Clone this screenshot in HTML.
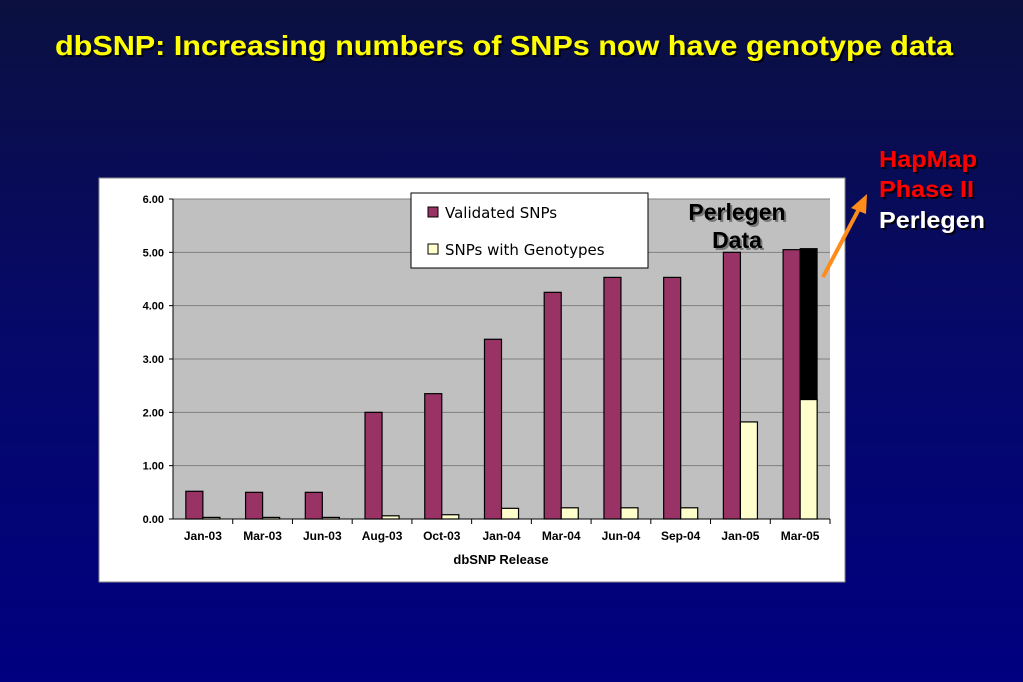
<!DOCTYPE html>
<html><head><meta charset="utf-8"><style>
body{margin:0;width:1023px;height:682px;overflow:hidden;background:linear-gradient(#0b1040,#06086a 50%,#000080);font-family:"Liberation Sans",sans-serif}
svg{position:absolute;left:0;top:0}
</style></head><body>
<svg width="1023" height="682">
<defs><filter id="sh"><feDropShadow dx="2" dy="2" stdDeviation="0" flood-color="#000" flood-opacity="0.8"/></filter></defs>
<text x="55" y="55" font-size="28" font-weight="bold" fill="#ffff00" filter="url(#sh)" textLength="898" lengthAdjust="spacingAndGlyphs">dbSNP:  Increasing numbers of SNPs now have genotype data</text>
<rect x="99" y="178" width="746" height="404" fill="#fff" stroke="#888"/>
<rect x="173" y="199" width="657" height="320" fill="#c0c0c0"/>
<g id="grid"></g><g id="bars"></g><g id="axes"></g>
<text x="501" y="564" font-size="13" font-weight="bold" text-anchor="middle">dbSNP Release</text>
<g font-family="DejaVu Sans, sans-serif">
<rect x="411" y="193" width="237" height="75" fill="#fff" stroke="#000"/>
<rect x="428" y="207" width="10" height="10" fill="#993366" stroke="#000"/>
<text x="445" y="218" font-size="15">Validated SNPs</text>
<rect x="428" y="244" width="10" height="10" fill="#ffffcc" stroke="#000"/>
<text x="445" y="255" font-size="15">SNPs with Genotypes</text>
</g>
<g font-size="23" font-weight="bold" text-anchor="middle" fill="#000" style="filter:drop-shadow(2px 2px 0 #777)">
<text x="737" y="220">Perlegen</text>
<text x="737" y="248">Data</text></g>
<line x1="823" y1="277" x2="860" y2="207" stroke="#ff8c1a" stroke-width="4"/>
<polygon points="867,194 851,208 866,214" fill="#ff8c1a"/>
<g font-size="23" font-weight="bold" filter="url(#sh)">
<text x="879" y="167" fill="#ff0000" textLength="98" lengthAdjust="spacingAndGlyphs">HapMap</text>
<text x="879" y="197" fill="#ff0000" textLength="95" lengthAdjust="spacingAndGlyphs">Phase II</text>
<text x="879" y="228" fill="#ffffff" textLength="106" lengthAdjust="spacingAndGlyphs">Perlegen</text></g>
</svg>
<script>
const categories=["Jan-03","Mar-03","Jun-03","Aug-03","Oct-03","Jan-04","Mar-04","Jun-04","Sep-04","Jan-05","Mar-05"];
const validated=[0.52,0.50,0.50,2.00,2.35,3.37,4.25,4.53,4.53,5.00,5.05];
const genotypes=[0.03,0.03,0.03,0.06,0.08,0.20,0.21,0.21,0.21,1.82,2.24];
const perlegen=[0,0,0,0,0,0,0,0,0,0,2.83];
const yTicks=[0,1,2,3,4,5,6];
const NS="http://www.w3.org/2000/svg";
const x0=173,x1=830,yb=519,yt=199,ymax=6;
const step=(x1-x0)/categories.length;
const y=v=>yb-(v/ymax)*(yb-yt);
function mk(tag,attrs,parent){const e=document.createElementNS(NS,tag);for(const k in attrs)e.setAttribute(k,attrs[k]);document.getElementById(parent).appendChild(e);return e;}
yTicks.forEach(t=>{
 if(t>0){const g=mk('line',{x1:x0,x2:x1,y1:y(t),y2:y(t),stroke:'#808080'},'grid');
 
 }
 const l=mk('text',{x:x0-9,y:y(t)+4,'font-size':11,'font-weight':'bold','text-anchor':'end'},'axes');l.textContent=t.toFixed(2);
 
 
 mk('line',{x1:x0-4,x2:x0,y1:y(t),y2:y(t),stroke:'#000'},'axes');
});
mk('line',{x1:x0,x2:x0,y1:yt,y2:yb,stroke:'#000'},'axes');
mk('line',{x1:x0,x2:x1,y1:yb,y2:yb,stroke:'#000'},'axes');
const bw=step*0.285;
categories.forEach((c,i)=>{
 const cx=x0+step*(i+0.5);
 let r=mk('rect',{x:cx-bw,y:y(validated[i]),width:bw,height:yb-y(validated[i]),fill:'#993366',stroke:'#000','stroke-width':1.2},'bars');
 
 
 r=mk('rect',{x:cx,y:y(genotypes[i]),width:bw,height:yb-y(genotypes[i]),fill:'#ffffcc',stroke:'#000','stroke-width':1.2},'bars');
 
 
 if(perlegen[i]>0){r=mk('rect',{x:cx,y:y(genotypes[i]+perlegen[i]),width:bw,height:y(genotypes[i])-y(genotypes[i]+perlegen[i]),fill:'#000',stroke:'#000'},'bars');
 
 }
 mk('line',{x1:x0+step*(i+1),x2:x0+step*(i+1),y1:yb,y2:yb+5,stroke:'#000'},'axes');
 const t=mk('text',{x:cx,y:yb+21,'font-size':12,'font-weight':'bold','text-anchor':'middle'},'axes');t.textContent=c;
 
 
});
</script>
</body></html>
